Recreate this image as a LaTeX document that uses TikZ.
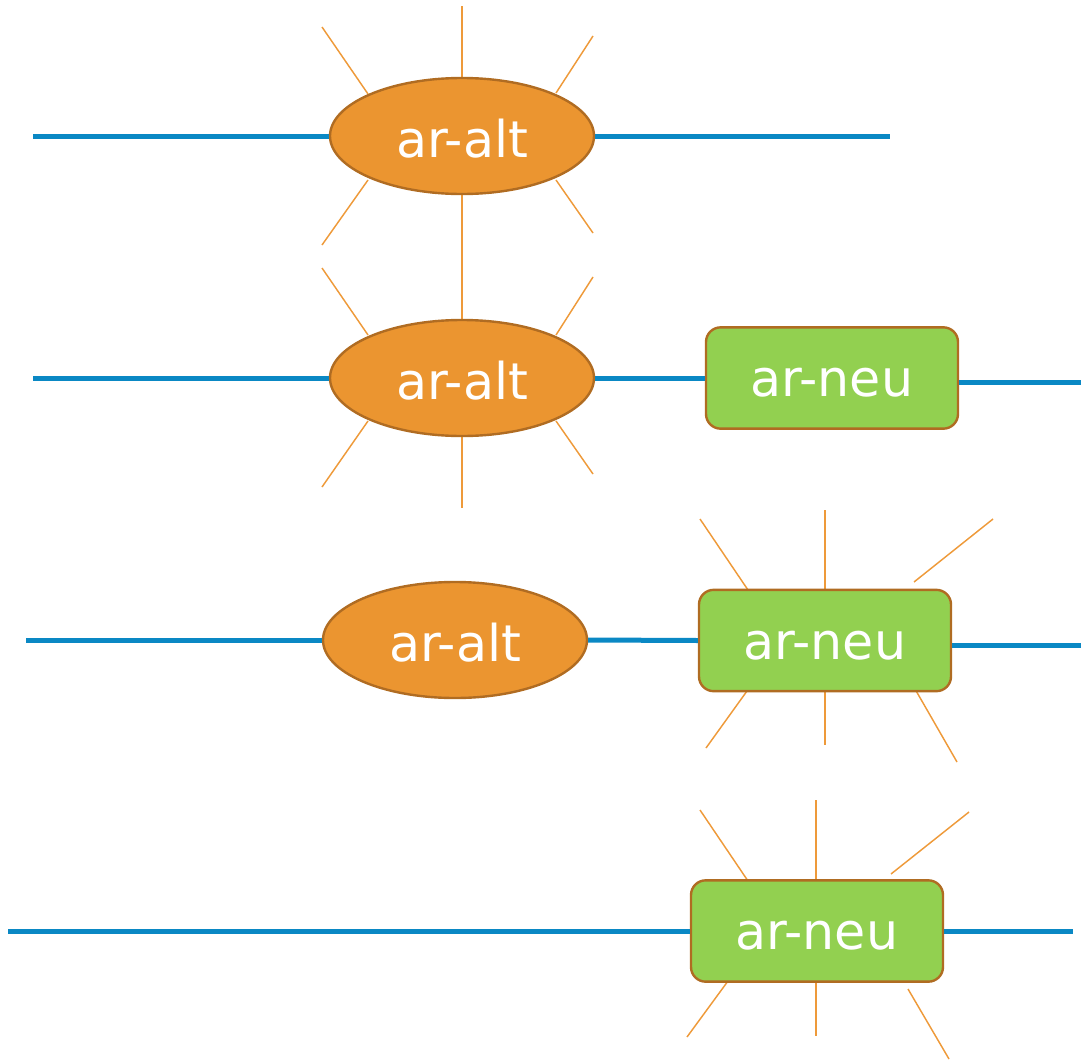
\documentclass[tikz,border=0pt]{standalone}
\usepackage{fontspec}
\setmainfont{DejaVu Sans}
\usetikzlibrary{shapes.geometric}
\definecolor{wire}{HTML}{0A88C4}
\definecolor{oldfill}{HTML}{EB9530}
\definecolor{newfill}{HTML}{92D050}
\definecolor{rim}{HTML}{B06C22}
\definecolor{ray}{HTML}{EE9A3A}
\tikzset{
  wireline/.style={draw=wire, line width=3.75pt},
  rayline/.style={draw=ray, line width=1.1pt},
  oldnode/.style={ellipse, fill=oldfill, draw=rim, line width=1.8pt,
    minimum width=198pt, minimum height=87pt, inner sep=0pt,
    text height=31.5pt, text depth=0pt,
    text=white, font=\fontsize{38}{42}\selectfont},
  newnode/.style={rectangle, rounded corners=11pt, fill=newfill, draw=rim, line width=1.8pt,
    minimum width=189pt, minimum height=76pt, inner sep=0pt,
    text height=28pt, text depth=0pt,
    text=white, font=\fontsize{38}{42}\selectfont},
}
\begin{document}
\begin{tikzpicture}[x=0.75pt, y=-0.75pt]
\useasboundingbox (0,0) rectangle (1081,1060);

% ---- first row: old node alone on the line
\draw[rayline] (462,6) -- (462,78);
\draw[rayline] (322,27) -- (368,94);
\draw[rayline] (593,36) -- (556,93);
\draw[rayline] (368,180) -- (322,245);
\draw[rayline] (556,180) -- (593,233);
\draw[rayline] (462,194) -- (462,266);
\coordinate (a1) at (33,136);
\coordinate (b1) at (890,136);
\node[oldnode] (old1) at (462,136) {ar-alt};
\draw[wireline] (a1) -- (old1.west);
\draw[wireline] (old1.east) -- (b1);

% ---- second row: old node still active, new node attached
\draw[rayline] (462,248) -- (462,320);
\draw[rayline] (322,268) -- (368,335);
\draw[rayline] (593,277) -- (556,335);
\draw[rayline] (368,421) -- (322,487);
\draw[rayline] (556,421) -- (593,474);
\draw[rayline] (462,436) -- (462,508);
\coordinate (a2) at (33,378);
\coordinate (b2) at (1081,382);
\node[oldnode] (old2) at (462,378) {ar-alt};
\node[newnode] (new2) at (832,378) {ar-neu};
\draw[wireline] (a2) -- (old2.west);
\draw[wireline] (old2.east) -- (new2.west);
\draw[wireline] (new2.east |- b2) -- (b2);

% ---- third row: new node active, old node still present
\draw[rayline] (700,519) -- (748,590);
\draw[rayline] (825,510) -- (825,590);
\draw[rayline] (993,519) -- (914,582);
\draw[rayline] (747,691) -- (706,748);
\draw[rayline] (825,691) -- (825,745);
\draw[rayline] (915,689) -- (957,762);
\coordinate (a3) at (26,640);
\coordinate (b3) at (1081,645);
\node[oldnode] (old3) at (455,640) {ar-alt};
\node[newnode] (new3) at (825,640.5) {ar-neu};
\draw[wireline] (a3) -- (old3.west);
\draw[wireline] (old3.east) -- (new3.west);
\draw[wireline] (new3.east |- b3) -- (b3);

% ---- fourth row: new node alone on the line
\draw[rayline] (700,810) -- (748,881);
\draw[rayline] (816,800) -- (816,881);
\draw[rayline] (969,812) -- (891,874);
\draw[rayline] (728,981) -- (687,1037);
\draw[rayline] (816,981) -- (816,1036);
\draw[rayline] (908,989) -- (949,1059);
\coordinate (a4) at (8,931);
\coordinate (b4) at (1073,931);
\node[newnode] (new4) at (817,931) {ar-neu};
\draw[wireline] (a4) -- (new4.west);
\draw[wireline] (new4.east) -- (b4);
\end{tikzpicture}
\end{document}
